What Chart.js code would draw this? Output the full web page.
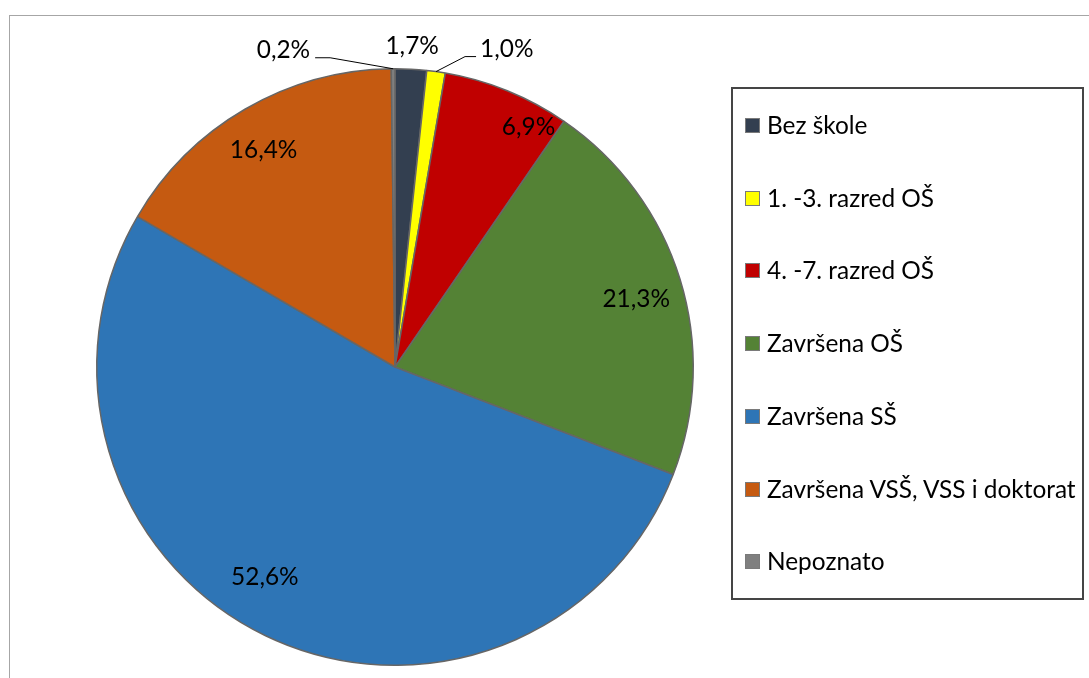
<!DOCTYPE html>
<html>
<head>
<meta charset="utf-8">
<script src="https://cdn.jsdelivr.net/npm/chart.js@4/dist/chart.umd.min.js"></script>
<style>
  html, body { margin: 0; padding: 0; background: #fff; overflow: hidden; }
  #wrap { position: relative; width: 1089px; height: 678px; }
  #frame { position: absolute; left: 9px; top: 15px; width: 1100px; height: 700px; border: 1px solid #a6a6a6; }
  #chart { position: absolute; left: 0; top: 0; }
  #legend { position: absolute; left: 731px; top: 87px; width: 349px; height: 509px; border: 2px solid #454545; box-sizing: content-box; }
  .item { position: absolute; left: 12px; font: 24.4px Lato, sans-serif; color: #000; white-space: nowrap; line-height: 26px; }
  .box { display: inline-block; width: 13px; height: 13px; border: 1px solid #7a7a7a; margin-right: 7px; vertical-align: 1px; }
</style>
</head>
<body>
<div id="wrap">
  <div id="frame"></div>
  <canvas id="chart" width="1089" height="678"></canvas>
  <div id="legend"></div>
</div>
<script>
const categories = ['Bez škole', '1. -3. razred OŠ', '4. -7. razred OŠ', 'Završena OŠ', 'Završena SŠ', 'Završena VSŠ, VSS i doktorat', 'Nepoznato'];
const shares = [1.7, 1.0, 6.9, 21.3, 52.6, 16.4, 0.2];
const colors = ['#333f50', '#ffff00', '#c00000', '#548235', '#2e75b6', '#c55a11', '#7f7f7f'];

// legend (html, drawn from the same arrays)
const legendEl = document.getElementById('legend');
categories.forEach((name, i) => {
  const d = document.createElement('div');
  d.className = 'item';
  d.style.top = (23 + i * 72.7) + 'px';
  d.innerHTML = '<span class="box" style="background:' + colors[i] + '"></span>' + name;
  legendEl.appendChild(d);
});

function fmt(v) { return v.toFixed(1).replace('.', ',') + '%'; }

// inside labels: angle shift (deg) and radius factor
const inside = { 2: [7, 0.92], 3: [1.5, 0.84], 4: [6, 0.83], 5: [-1, 0.85] };

const sliceLabels = {
  id: 'sliceLabels',
  afterDatasetsDraw(chart) {
    const ctx = chart.ctx;
    const meta = chart.getDatasetMeta(0);
    ctx.save();
    ctx.font = '24.4px Lato';
    ctx.fillStyle = '#000';
    ctx.strokeStyle = '#000';
    ctx.lineWidth = 1;
    ctx.textBaseline = 'middle';
    meta.data.forEach((arc, i) => {
      const p = arc.getProps(['x', 'y', 'startAngle', 'endAngle', 'outerRadius'], true);
      const mid = (p.startAngle + p.endAngle) / 2;
      const r = p.outerRadius;
      const text = fmt(shares[i]);
      if (inside[i]) {
        const a = mid + inside[i][0] * Math.PI / 180;
        const rr = r * inside[i][1];
        ctx.textAlign = 'center';
        ctx.fillText(text, p.x + rr * Math.cos(a), p.y + rr * Math.sin(a));
        return;
      }
      const ex = p.x + r * Math.cos(mid), ey = p.y + r * Math.sin(mid);
      if (i === 0) {
        ctx.textAlign = 'center';
        ctx.fillText(text, p.x + (r + 23) * Math.cos(mid), p.y + (r + 23) * Math.sin(mid));
      } else if (i === 1) {
        ctx.beginPath();
        ctx.moveTo(ex, ey);
        ctx.lineTo(ex + 29, ey - 15);
        ctx.lineTo(ex + 40, ey - 15);
        ctx.stroke();
        ctx.textAlign = 'left';
        ctx.fillText(text, ex + 44, ey - 22);
      } else {
        ctx.beginPath();
        ctx.moveTo(ex, ey);
        ctx.lineTo(ex - 63, ey - 11);
        ctx.lineTo(ex - 78, ey - 11);
        ctx.stroke();
        ctx.textAlign = 'right';
        ctx.fillText(text, ex - 83, ey - 19);
      }
    });
    ctx.restore();
  }
};

new Chart(document.getElementById('chart'), {
  type: 'pie',
  data: {
    labels: categories,
    datasets: [{
      data: shares,
      backgroundColor: colors,
      borderColor: '#666666',
      borderWidth: 1.5
    }]
  },
  options: {
    responsive: false,
    animation: false,
    layout: { padding: { left: 96, top: 68, right: 395, bottom: 12 } },
    plugins: {
      legend: { display: false },
      tooltip: { enabled: false }
    }
  },
  plugins: [sliceLabels]
});
</script>
</body>
</html>
